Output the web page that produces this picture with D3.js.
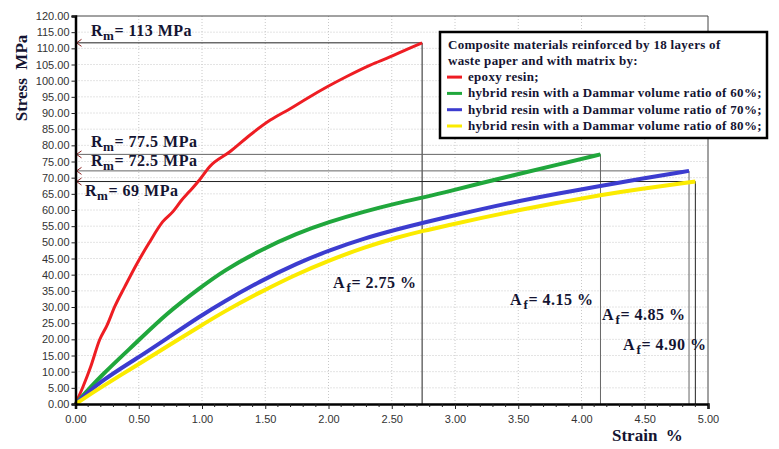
<!DOCTYPE html>
<html><head><meta charset="utf-8">
<script src="https://cdn.jsdelivr.net/npm/d3@7"></script>
<style>body{margin:0;background:#fff}svg{display:block}</style>
</head><body><svg id="c" width="779" height="449"></svg>
<script>
// ---- data ----
const seriesNames = [
  "epoxy resin;",
  "hybrid resin with a Dammar volume ratio of 60%;",
  "hybrid resin with a Dammar volume ratio of 70%;",
  "hybrid resin with a Dammar volume ratio of 80%;"
];
const legendTitle = ["Composite materials reinforced by 18 layers of", "waste paper and with matrix by:"];
const seriesColors = ["#ee1d23", "#20a73c", "#3c3ccf", "#fbeb00"];
const epoxy = [[0,0],[0.06,5.4],[0.12,11.5],[0.19,19.8],[0.25,24.4],[0.31,30.1],[0.39,36.3],[0.48,43.0],[0.58,49.7],[0.69,56.4],[0.77,59.5],[0.84,63.1],[0.90,65.7],[0.98,69.3],[1.06,73.4],[1.22,78.0],[1.38,83.2],[1.54,87.8],[1.70,91.4],[1.83,94.5],[1.99,98.1],[2.14,101.2],[2.33,104.8],[2.49,107.4],[2.62,109.7],[2.74,111.7]];
const dammar60 = [[0,0],[0.19,8.4],[0.49,19.3],[0.72,28.0],[0.99,36.1],[1.17,41.2],[1.46,47.6],[1.75,52.8],[2.01,56.4],[2.28,59.5],[2.54,62.1],[2.75,63.9],[2.96,65.8],[3.20,68.3],[3.51,71.2],[3.83,74.2],[4.15,77.2]];
const dammar70 = [[0,0],[0.19,6.9],[0.49,14.2],[0.72,20.2],[0.99,27.3],[1.17,31.6],[1.46,38.0],[1.75,43.5],[2.01,47.6],[2.28,51.2],[2.54,54.0],[2.75,56.1],[2.96,58.0],[3.20,60.2],[3.51,62.8],[3.83,65.2],[4.15,67.4],[4.46,69.6],[4.85,72.1]];
const dammar80 = [[0,0],[0.19,4.9],[0.49,12.1],[0.72,17.7],[0.99,24.2],[1.17,28.5],[1.46,34.6],[1.75,40.2],[2.01,44.5],[2.28,48.4],[2.54,51.5],[2.75,53.6],[2.96,55.4],[3.20,57.5],[3.51,60.0],[3.83,62.4],[4.15,64.6],[4.46,66.5],[4.90,68.8]];
const rmLabels = ["113", "77.5", "72.5", "69"];
const afLabels = ["2.75", "4.15", "4.85", "4.90"];
const xTicks = [0,0.5,1,1.5,2,2.5,3,3.5,4,4.5,5];
const yTicks = d3.range(0, 121, 5);

const series = [epoxy, dammar60, dammar70, dammar80];

// ---- layout ----
const svg = d3.select("#c");
const X0 = 75.5, X1 = 708, Y0 = 404, Y1 = 16;
const x = d3.scaleLinear().domain([0, 5]).range([X0, X1]);
const y = d3.scaleLinear().domain([0, 120]).range([Y0, Y1]);
const serif = "'Liberation Serif','Times New Roman',serif";
const sans = "'Liberation Sans',Arial,sans-serif";
const ink = "#141432";

// grid
const g = svg.append("g");
g.selectAll(".gx").data(xTicks.slice(1, -1)).join("line")
  .attr("x1", d => x(d)).attr("x2", d => x(d)).attr("y1", Y0).attr("y2", Y1)
  .attr("stroke", "#c8c8c8").attr("stroke-dasharray", "1,2");
g.selectAll(".gy").data(yTicks.slice(1, -1)).join("line")
  .attr("y1", d => y(d)).attr("y2", d => y(d)).attr("x1", X0).attr("x2", X1)
  .attr("stroke", "#c8c8c8").attr("stroke-dasharray", "1,2");

// frame top/right
svg.append("line").attr("x1", X0).attr("x2", X1).attr("y1", Y1).attr("y2", Y1).attr("stroke", "#444").attr("stroke-width", 1);
svg.append("line").attr("x1", X1).attr("x2", X1).attr("y1", Y1).attr("y2", Y0).attr("stroke", "#444").attr("stroke-width", 1);

// annotation lines (Rm horizontals and Af verticals)
const lineCols = ["#222", "#666", "#666", "#222"];
series.forEach((s, i) => {
  const e = s[s.length - 1];
  svg.append("line").attr("x1", X0).attr("x2", x(e[0])).attr("y1", y(e[1])).attr("y2", y(e[1]))
    .attr("stroke", lineCols[i]).attr("stroke-width", 1);
  svg.append("line").attr("x1", x(e[0])).attr("x2", x(e[0])).attr("y1", y(e[1])).attr("y2", Y0)
    .attr("stroke", lineCols[i]).attr("stroke-width", 1);
  svg.append("path").attr("d", `M${X0 + 6},${y(e[1]) - 3.5}L${X0 + 1},${y(e[1])}L${X0 + 6},${y(e[1]) + 3.5}`)
    .attr("fill", "none").attr("stroke", "#8a2020").attr("stroke-width", 1);
});

// curves
const lineRed = d3.line().x(d => x(d[0])).y(d => y(d[1])).curve(d3.curveMonotoneX);
const lineSmooth = d3.line().x(d => x(d[0])).y(d => y(d[1])).curve(d3.curveBasis);
const widths = [3, 4, 4, 4];
series.forEach((s, i) => {
  svg.append("path").datum(s).attr("d", i === 0 ? lineRed : lineSmooth).attr("fill", "none")
    .attr("stroke", seriesColors[i]).attr("stroke-width", widths[i]).attr("stroke-linejoin", "round");
});

// axes
const xAxis = svg.append("g").attr("transform", `translate(0,${Y0})`)
  .call(d3.axisBottom(x).tickValues(xTicks).tickFormat(d3.format(".2f")).tickSize(5).tickPadding(6));
const minor = d3.range(0, 50).map(d => d / 10).filter(d => Math.round(d * 10) % 5 !== 0);
svg.append("g").selectAll("line").data(minor).join("line")
  .attr("x1", d => x(d)).attr("x2", d => x(d)).attr("y1", Y0).attr("y2", Y0 + 3).attr("stroke", "#222");
const yAxis = svg.append("g").attr("transform", `translate(${X0},0)`)
  .call(d3.axisLeft(y).tickValues(yTicks).tickFormat(d3.format(".2f")).tickSize(4).tickPadding(2));
[xAxis, yAxis].forEach(a => {
  a.select(".domain").attr("stroke", "#000").attr("stroke-width", 2.5);
  a.selectAll(".tick line").attr("stroke", "#222");
  a.selectAll("text").attr("font-family", sans).attr("font-size", 11).attr("fill", "#333");
});

// axis titles
svg.append("text").attr("transform", "translate(27,78) rotate(-90)").attr("text-anchor", "middle")
  .attr("font-family", serif).attr("font-weight", "bold").attr("font-size", 17).attr("fill", ink)
  .attr("xml:space", "preserve").text("Stress  MPa");
svg.append("text").attr("x", 612).attr("y", 441)
  .attr("font-family", serif).attr("font-weight", "bold").attr("font-size", 17).attr("fill", ink)
  .attr("xml:space", "preserve").text("Strain  %");

// Rm labels
const rmPos = [[91, 36], [91, 147], [91, 166], [85, 196]];
rmLabels.forEach((t, i) => {
  const tx = svg.append("text").attr("x", rmPos[i][0]).attr("y", rmPos[i][1])
    .attr("font-family", serif).attr("font-weight", "bold").attr("font-size", 16)
    .attr("letter-spacing", 0.5).attr("fill", ink);
  tx.append("tspan").text("R");
  tx.append("tspan").attr("dy", 4).attr("font-size", 13).text("m");
  tx.append("tspan").attr("dy", -4).text("= " + t + " MPa");
});

// Af labels
const afPos = [[333, 288], [510, 305], [602, 320], [623, 350]];
afLabels.forEach((t, i) => {
  const tx = svg.append("text").attr("x", afPos[i][0]).attr("y", afPos[i][1])
    .attr("font-family", serif).attr("font-weight", "bold").attr("font-size", 16)
    .attr("letter-spacing", 0.5).attr("fill", ink);
  tx.append("tspan").text("A");
  tx.append("tspan").attr("dy", 4).attr("dx", 1.5).attr("font-size", 13).text("f");
  tx.append("tspan").attr("dy", -4).text("= " + t + " %");
});

// legend
const L = {x: 440, y: 32, w: 327, h: 106};
svg.append("rect").attr("x", L.x).attr("y", L.y).attr("width", L.w).attr("height", L.h)
  .attr("fill", "#fff").attr("stroke", "#000").attr("stroke-width", 2.5);
legendTitle.forEach((t, i) => {
  svg.append("text").attr("x", L.x + 8).attr("y", L.y + 16.5 + i * 16.3)
    .attr("font-family", serif).attr("font-weight", "bold").attr("font-size", 13)
    .attr("letter-spacing", 0.3).attr("fill", ink).text(t);
});
seriesNames.forEach((t, i) => {
  const yy = L.y + 16.5 + (i + 2) * 16.3;
  svg.append("line").attr("x1", L.x + 7).attr("x2", L.x + 22).attr("y1", yy - 4).attr("y2", yy - 4)
    .attr("stroke", seriesColors[i]).attr("stroke-width", 3);
  svg.append("text").attr("x", L.x + 28).attr("y", yy)
    .attr("font-family", serif).attr("font-weight", "bold").attr("font-size", 13)
    .attr("letter-spacing", 0.3).attr("fill", ink).text(t);
});
</script></body></html>
